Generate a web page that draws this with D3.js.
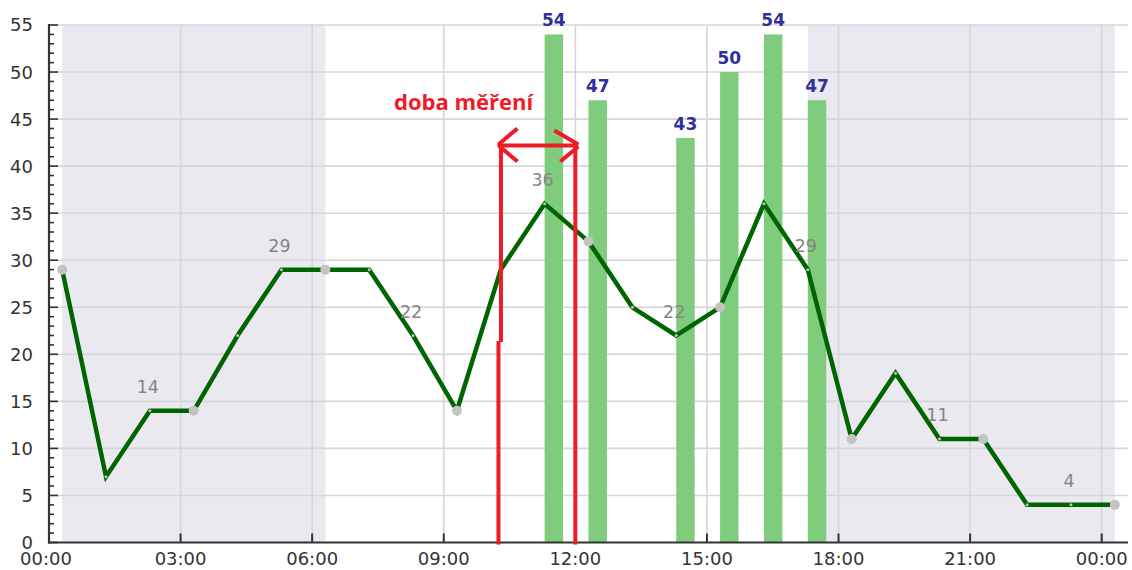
<!DOCTYPE html>
<html>
<head>
<meta charset="utf-8">
<script src="https://cdn.jsdelivr.net/npm/d3@7"></script>
<style>
  html, body { margin: 0; padding: 0; background: #ffffff; }
  svg { display: block; }
</style>
</head>
<body>
<svg id="chart" width="1132" height="570"></svg>
<script>
// Hourly readings (hours since midnight) and their values
const pointHours = [0.3, 1.3, 2.3, 3.3, 4.3, 5.3, 6.3, 7.3, 8.3, 9.3, 10.3, 11.3, 12.3,
                    13.3, 14.3, 15.3, 16.3, 17.3, 18.3, 19.3, 20.3, 21.3, 22.3, 23.3, 24.3];
const pointValues = [29, 7, 14, 14, 22, 29, 29, 29, 22, 14, 29, 36, 32,
                     25, 22, 25, 36, 29, 11, 18, 11, 11, 4, 4, 4];
// indices that get a round marker, indices that get a value label
const dotIndex = [0, 3, 6, 9, 12, 15, 18, 21, 24];
const labelIndex = [2, 5, 8, 11, 14, 17, 20, 23];

// Measurement bars
const barHours = [11.3, 12.3, 14.3, 15.3, 16.3, 17.3];
const barValues = [54, 47, 43, 50, 54, 47];
const barDuration = 0.42; // hours

// Night periods (shaded)
const nightStart = [0.3, 17.3];
const nightEnd = [6.3, 24.3];

// Measurement window annotation
const measureFrom = 10.27;
const measureTo = 12.0;
const measureLevel = 42.2;
const measureText = "doba měření";

// Axis ticks
const xTickHours = [0, 3, 6, 9, 12, 15, 18, 21, 24];
const xTickLabels = ["00:00", "03:00", "06:00", "09:00", "12:00", "15:00", "18:00", "21:00", "00:00"];
const yTicks = [0, 5, 10, 15, 20, 25, 30, 35, 40, 45, 50, 55];

const svg = d3.select("#chart");
const plotLeft = 49, plotRight = 1128, plotTop = 25, plotBottom = 542.5;

const x = d3.scaleLinear().domain([0, 24.6]).range([plotLeft, plotRight]);
const y = d3.scaleLinear().domain([0, 55]).range([plotBottom, plotTop]);

// night shading
svg.append("g").selectAll("rect")
  .data(nightStart.map((s, i) => [s, nightEnd[i]]))
  .join("rect")
  .attr("x", d => x(d[0]))
  .attr("y", y(55))
  .attr("width", d => x(d[1]) - x(d[0]))
  .attr("height", y(0) - y(55))
  .attr("fill", "#e9e9ef");

// grid
const grid = svg.append("g").attr("stroke", "#d6d6da").attr("stroke-width", 1.6);
grid.selectAll("line.h").data(yTicks.filter(v => v > 0)).join("line")
  .attr("class", "h")
  .attr("x1", plotLeft).attr("x2", plotRight)
  .attr("y1", d => y(d)).attr("y2", d => y(d));
grid.selectAll("line.v").data(xTickHours.filter(h => h > 0)).join("line")
  .attr("class", "v")
  .attr("x1", d => x(d)).attr("x2", d => x(d))
  .attr("y1", y(55)).attr("y2", y(0));

// bars
const bars = barHours.map((h, i) => ({ h, v: barValues[i] }));
svg.append("g").selectAll("rect")
  .data(bars)
  .join("rect")
  .attr("x", d => x(d.h))
  .attr("y", d => y(d.v))
  .attr("width", x(barDuration) - x(0))
  .attr("height", d => y(0) - y(d.v))
  .attr("fill", "#7fcc7c");

// bar value labels
svg.append("g").selectAll("text")
  .data(bars)
  .join("text")
  .attr("x", d => x(d.h + barDuration / 2))
  .attr("y", d => y(d.v) - 8)
  .attr("text-anchor", "middle")
  .attr("font-family", "DejaVu Sans, sans-serif")
  .attr("font-weight", "bold")
  .attr("font-size", 17)
  .attr("fill", "#30309a")
  .text(d => d.v);

// line
const pts = pointHours.map((h, i) => ({ h, v: pointValues[i] }));
svg.append("path")
  .datum(pts)
  .attr("d", d3.line().x(d => x(d.h)).y(d => y(d.v)))
  .attr("fill", "none")
  .attr("stroke", "#006400")
  .attr("stroke-width", 4.5)
  .attr("stroke-linejoin", "miter");

// small markers
svg.append("g").selectAll("circle")
  .data(pts.filter((d, i) => !dotIndex.includes(i)))
  .join("circle")
  .attr("cx", d => x(d.h)).attr("cy", d => y(d.v))
  .attr("r", 1.5)
  .attr("fill", "#b8c8b8");

// round markers
svg.append("g").selectAll("circle")
  .data(pts.filter((d, i) => dotIndex.includes(i)))
  .join("circle")
  .attr("cx", d => x(d.h)).attr("cy", d => y(d.v))
  .attr("r", 5)
  .attr("fill", "#c3c3c3");

// value labels on the line
svg.append("g").selectAll("text")
  .data(pts.filter((d, i) => labelIndex.includes(i)))
  .join("text")
  .attr("x", d => x(d.h) - 2)
  .attr("y", d => y(d.v) - 18)
  .attr("text-anchor", "middle")
  .attr("font-family", "DejaVu Sans, sans-serif")
  .attr("font-size", 17.5)
  .attr("fill", "#858585")
  .text(d => d.v);

// axes
const axisColor = "#333333";
const yAxis = svg.append("g");
yAxis.append("line")
  .attr("x1", plotLeft).attr("x2", plotLeft)
  .attr("y1", y(55) - 1).attr("y2", y(0) + 1)
  .attr("stroke", axisColor).attr("stroke-width", 2.2);
yAxis.selectAll("line.minor").data(d3.range(0, 56)).join("line")
  .attr("class", "minor")
  .attr("x1", plotLeft).attr("x2", d => plotLeft + (d % 5 === 0 ? 9 : 5))
  .attr("y1", d => y(d)).attr("y2", d => y(d))
  .attr("stroke", axisColor).attr("stroke-width", 1.6);
yAxis.selectAll("text").data(yTicks).join("text")
  .attr("x", 33)
  .attr("y", d => y(d))
  .attr("dy", "0.36em")
  .attr("text-anchor", "end")
  .attr("font-family", "DejaVu Sans, sans-serif")
  .attr("font-size", 18)
  .attr("fill", axisColor)
  .text(d => d);

const xAxis = svg.append("g");
xAxis.append("line")
  .attr("x1", plotLeft - 1).attr("x2", plotRight)
  .attr("y1", y(0)).attr("y2", y(0))
  .attr("stroke", axisColor).attr("stroke-width", 2.2);
xAxis.selectAll("line.tick").data(xTickHours.filter(h => h > 0)).join("line")
  .attr("class", "tick")
  .attr("x1", d => x(d)).attr("x2", d => x(d))
  .attr("y1", y(0)).attr("y2", y(0) - 9)
  .attr("stroke", axisColor).attr("stroke-width", 2);
xAxis.selectAll("text").data(xTickHours).join("text")
  .attr("x", (d, i) => x(d) - (i === 0 ? 3 : 0))
  .attr("y", 565)
  .attr("text-anchor", "middle")
  .attr("font-family", "DejaVu Sans, sans-serif")
  .attr("font-size", 18)
  .attr("fill", axisColor)
  .text((d, i) => xTickLabels[i]);

// measurement window annotation
const red = "#ee1c25";
const ann = svg.append("g")
  .attr("stroke", red).attr("stroke-width", 4).attr("fill", "none")
  .attr("stroke-linecap", "butt");
const xa = x(measureFrom), xb = x(measureTo), ya = y(measureLevel);
ann.append("line").attr("x1", xa + 1.5).attr("x2", xa + 1.5).attr("y1", ya).attr("y2", y(21.3));
ann.append("line").attr("x1", xa - 1).attr("x2", xa - 1).attr("y1", y(21.3) - 1).attr("y2", y(0) + 2);
ann.append("line").attr("x1", xb).attr("x2", xb).attr("y1", ya).attr("y2", y(0) + 2);
ann.append("line").attr("x1", xa - 2).attr("x2", xb + 3).attr("y1", ya).attr("y2", ya);
ann.append("line").attr("x1", xa - 1).attr("y1", ya - 1).attr("x2", xa + 18).attr("y2", ya - 17);
ann.append("line").attr("x1", xa).attr("y1", ya + 1).attr("x2", xa + 18).attr("y2", ya + 16);
ann.append("line").attr("x1", xb + 3).attr("y1", ya - 1).attr("x2", xb - 21).attr("y2", ya - 15);
ann.append("line").attr("x1", xb + 3).attr("y1", ya + 1).attr("x2", xb - 15).attr("y2", ya + 16);

svg.append("text")
  .attr("x", 394)
  .attr("y", 110)
  .attr("font-family", "Open Sans, sans-serif")
  .attr("font-weight", "bold")
  .attr("font-size", 22)
  .attr("fill", red)
  .text(measureText);
</script>
</body>
</html>
